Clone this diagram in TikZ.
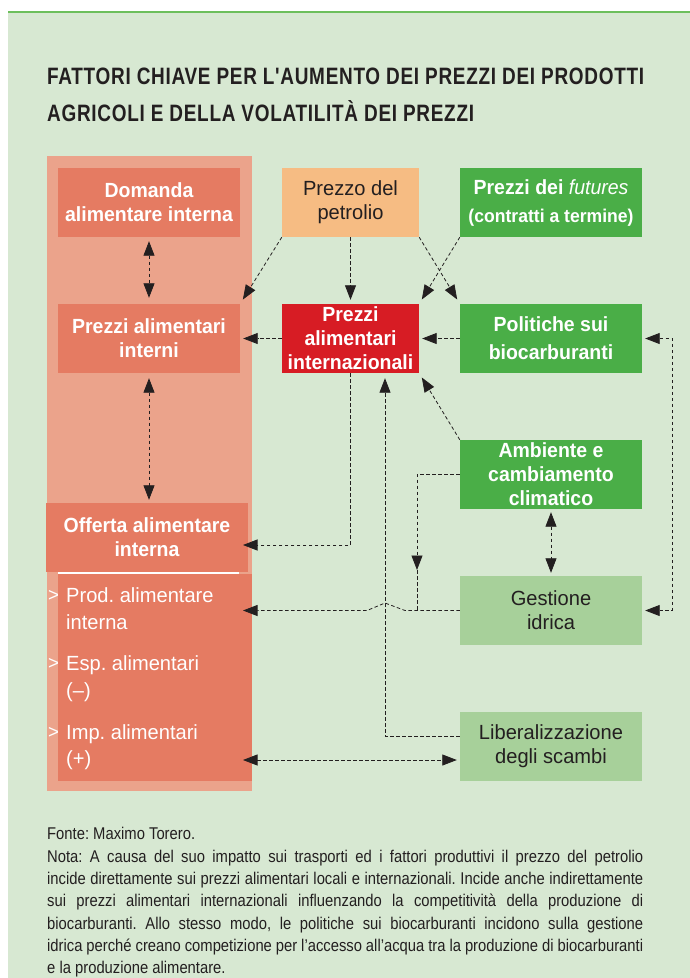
\documentclass[tikz,border=0pt]{standalone}
\usepackage{fontspec}
\setmainfont{Liberation Sans}
\newfontfamily\titlef{Liberation Sans}[FakeStretch=0.80,LetterSpace=3]
\newfontfamily\bxf{Liberation Sans}[FakeStretch=0.95]
\newfontfamily\rgf{Liberation Sans}[FakeStretch=0.98]
\newfontfamily\notef{Liberation Sans}[FakeStretch=0.87]
\usetikzlibrary{arrows.meta}
\definecolor{bg}{HTML}{D7E8D2}
\definecolor{topline}{HTML}{6CBF5C}
\definecolor{panel}{HTML}{EBA38B}
\definecolor{salmon}{HTML}{E57B62}
\definecolor{oil}{HTML}{F6BC83}
\definecolor{redb}{HTML}{D71C24}
\definecolor{greenb}{HTML}{4AAE47}
\definecolor{lgreen}{HTML}{A7D09A}
\definecolor{ink}{HTML}{231F20}
\frenchspacing
\begin{document}
\begin{tikzpicture}[x=1pt,y=-1pt,
  box/.style={inner sep=0pt, align=center, minimum height=69pt},
  boldbox/.style={box, text=white, font=\bxf\bfseries\fontsize{20.5}{24}\selectfont},
  regbox/.style={box, text=ink, font=\rgf\fontsize{20.5}{24}\selectfont},
  wide/.style={minimum width=182pt},
  narrow/.style={minimum width=137pt},
  titletext/.style={inner sep=0pt, anchor=base west, text=ink, font=\titlef\bfseries\fontsize{23.7}{28}\selectfont},
  itemtext/.style={inner sep=0pt, anchor=base west, text=white, font=\rgf\fontsize{20.5}{24}\selectfont},
  bullettext/.style={inner sep=0pt, anchor=base west, text=white, font=\rgf\fontsize{19}{20}\selectfont},
  notetext/.style={inner sep=0pt, anchor=base west, text=ink, font=\notef\fontsize{17}{22}\selectfont},
  conn/.style={draw=ink, line width=0.8pt, dash pattern=on 3.5pt off 2.5pt,
    >={Triangle[length=14.5pt,width=11pt]}}
]
\useasboundingbox (0,0) rectangle (690,978);
% background
\fill[bg] (8,12) rectangle (690,978);
\draw[topline, line width=1.5pt] (8,12) -- (690,12);
% title
\node[titletext] (title1) at (47,84) {FATTORI CHIAVE PER L'AUMENTO DEI PREZZI DEI PRODOTTI};
\node[titletext] (title2) at (47,121) {AGRICOLI E DELLA VOLATILITÀ DEI PREZZI};
% left panel
\fill[panel] (47,156) rectangle (252,791);
\fill[salmon] (58,574) rectangle (252,781);
% boxes
\node[boldbox, wide, fill=salmon] (domanda) at (149,202.5) {Domanda\\alimentare interna};
\node[boldbox, wide, fill=salmon] (interni) at (149,338.5) {Prezzi alimentari\\interni};
\node[boldbox, fill=salmon, minimum width=202pt] (offerta) at (147,537.5) {Offerta alimentare\\interna};
\draw[white, line width=1.5pt] (58,573) -- (239,573);
\node[regbox, narrow, fill=oil] (petrolio) at (350.5,202.5) {Prezzo del\\petrolio};
\node[boldbox, narrow, fill=redb] (intl) at (350.5,338.5) {Prezzi\\alimentari\\internazionali};
\node[boldbox, wide, fill=greenb] (futures) at (551,202.5)
  {Prezzi dei {\mdseries\itshape futures}\\[4pt]{\fontsize{18.5}{22}\selectfont(contratti a termine)}};
\node[boldbox, wide, fill=greenb] (politiche) at (551,338.5) {Politiche sui\\[4pt]biocarburanti};
\node[boldbox, wide, fill=greenb] (ambiente) at (551,474.5) {Ambiente e\\cambiamento\\climatico};
\node[regbox, wide, fill=lgreen] (gestione) at (551,610.5) {Gestione\\idrica};
\node[regbox, wide, fill=lgreen] (liberal) at (551,746.5) {Liberalizzazione\\degli scambi};
% sub items
\node[bullettext] (b1) at (48,601) {>};
\node[itemtext] (prod1) at (66,602) {Prod. alimentare};
\node[itemtext] (prod2) at (66,629) {interna};
\node[bullettext] (b2) at (48,669) {>};
\node[itemtext] (esp1) at (66,670) {Esp. alimentari};
\node[itemtext] (esp2) at (66,697) {(–)};
\node[bullettext] (b3) at (48,738) {>};
\node[itemtext] (imp1) at (66,739) {Imp. alimentari};
\node[itemtext] (imp2) at (66,765) {(+)};
% helper coordinates
\coordinate (tipL) at (243,0);
\coordinate (libx) at (385,0);
% connectors
\draw[conn,<->,shorten <=4pt,shorten >=6pt] (domanda.south) -- (interni.north);
\draw[conn,<->,shorten <=5pt,shorten >=3pt] (interni.south) -- (interni.south |- offerta.north);
\draw[conn,->,shorten >=5pt] (petrolio.south west) -- (interni.north east);
\draw[conn,->,shorten >=4pt] (petrolio.south) -- (intl.north);
\draw[conn,->,shorten >=5pt] (petrolio.south east) -- (politiche.north west);
\draw[conn,->,shorten >=5pt] (futures.south west) -- (intl.north east);
\draw[conn,->,shorten >=3pt] (intl.west) -- (interni.east);
\draw[conn,->,shorten >=3pt] (politiche.west) -- (intl.east);
\draw[conn,<->,shorten <=3pt,shorten >=3pt] (politiche.east) -- ++(30,0) |- (gestione.east);
\draw[conn,->,shorten >=5pt] (ambiente.north west) -- (intl.south east);
\draw[conn,->,shorten >=5pt] ([yshift=10.5pt]liberal.west) -| (intl.south -| libx);
\draw[conn,->] (intl.south) |- (tipL |- 0,545);
\draw[conn,->] (gestione.west) -- (405,610.5) -- (385,603) -- (367,610.5) -- (tipL |- gestione.west);
\draw[conn,->] (ambiente.west) -| (417,570);
\draw[conn] (417,570) -- (417,610.5);
\draw[conn,<->,shorten <=3pt,shorten >=3pt] (ambiente.south) -- (gestione.north);
\draw[conn,<->,shorten >=3pt] (tipL |- 0,760) -- (liberal.west |- 0,760);
% note
\node[notetext] (fonte) at (47,839) {Fonte: Maximo Torero.};
\node[notetext] (n1) at (47,862) {\makebox[596pt][s]{Nota: A causa del suo impatto sui trasporti ed i fattori produttivi il prezzo del petrolio}};
\node[notetext] (n2) at (47,884) {\makebox[596pt][s]{incide direttamente sui prezzi alimentari locali e internazionali. Incide anche indirettamente}};
\node[notetext] (n3) at (47,906) {\makebox[596pt][s]{sui prezzi alimentari internazionali influenzando la competitività della produzione di}};
\node[notetext] (n4) at (47,929) {\makebox[596pt][s]{biocarburanti. Allo stesso modo, le politiche sui biocarburanti incidono sulla gestione}};
\node[notetext] (n5) at (47,951) {\makebox[596pt][s]{idrica perché creano competizione per l’accesso all’acqua tra la produzione di biocarburanti}};
\node[notetext] (n6) at (47,973) {e la produzione alimentare.};
\end{tikzpicture}
\end{document}
